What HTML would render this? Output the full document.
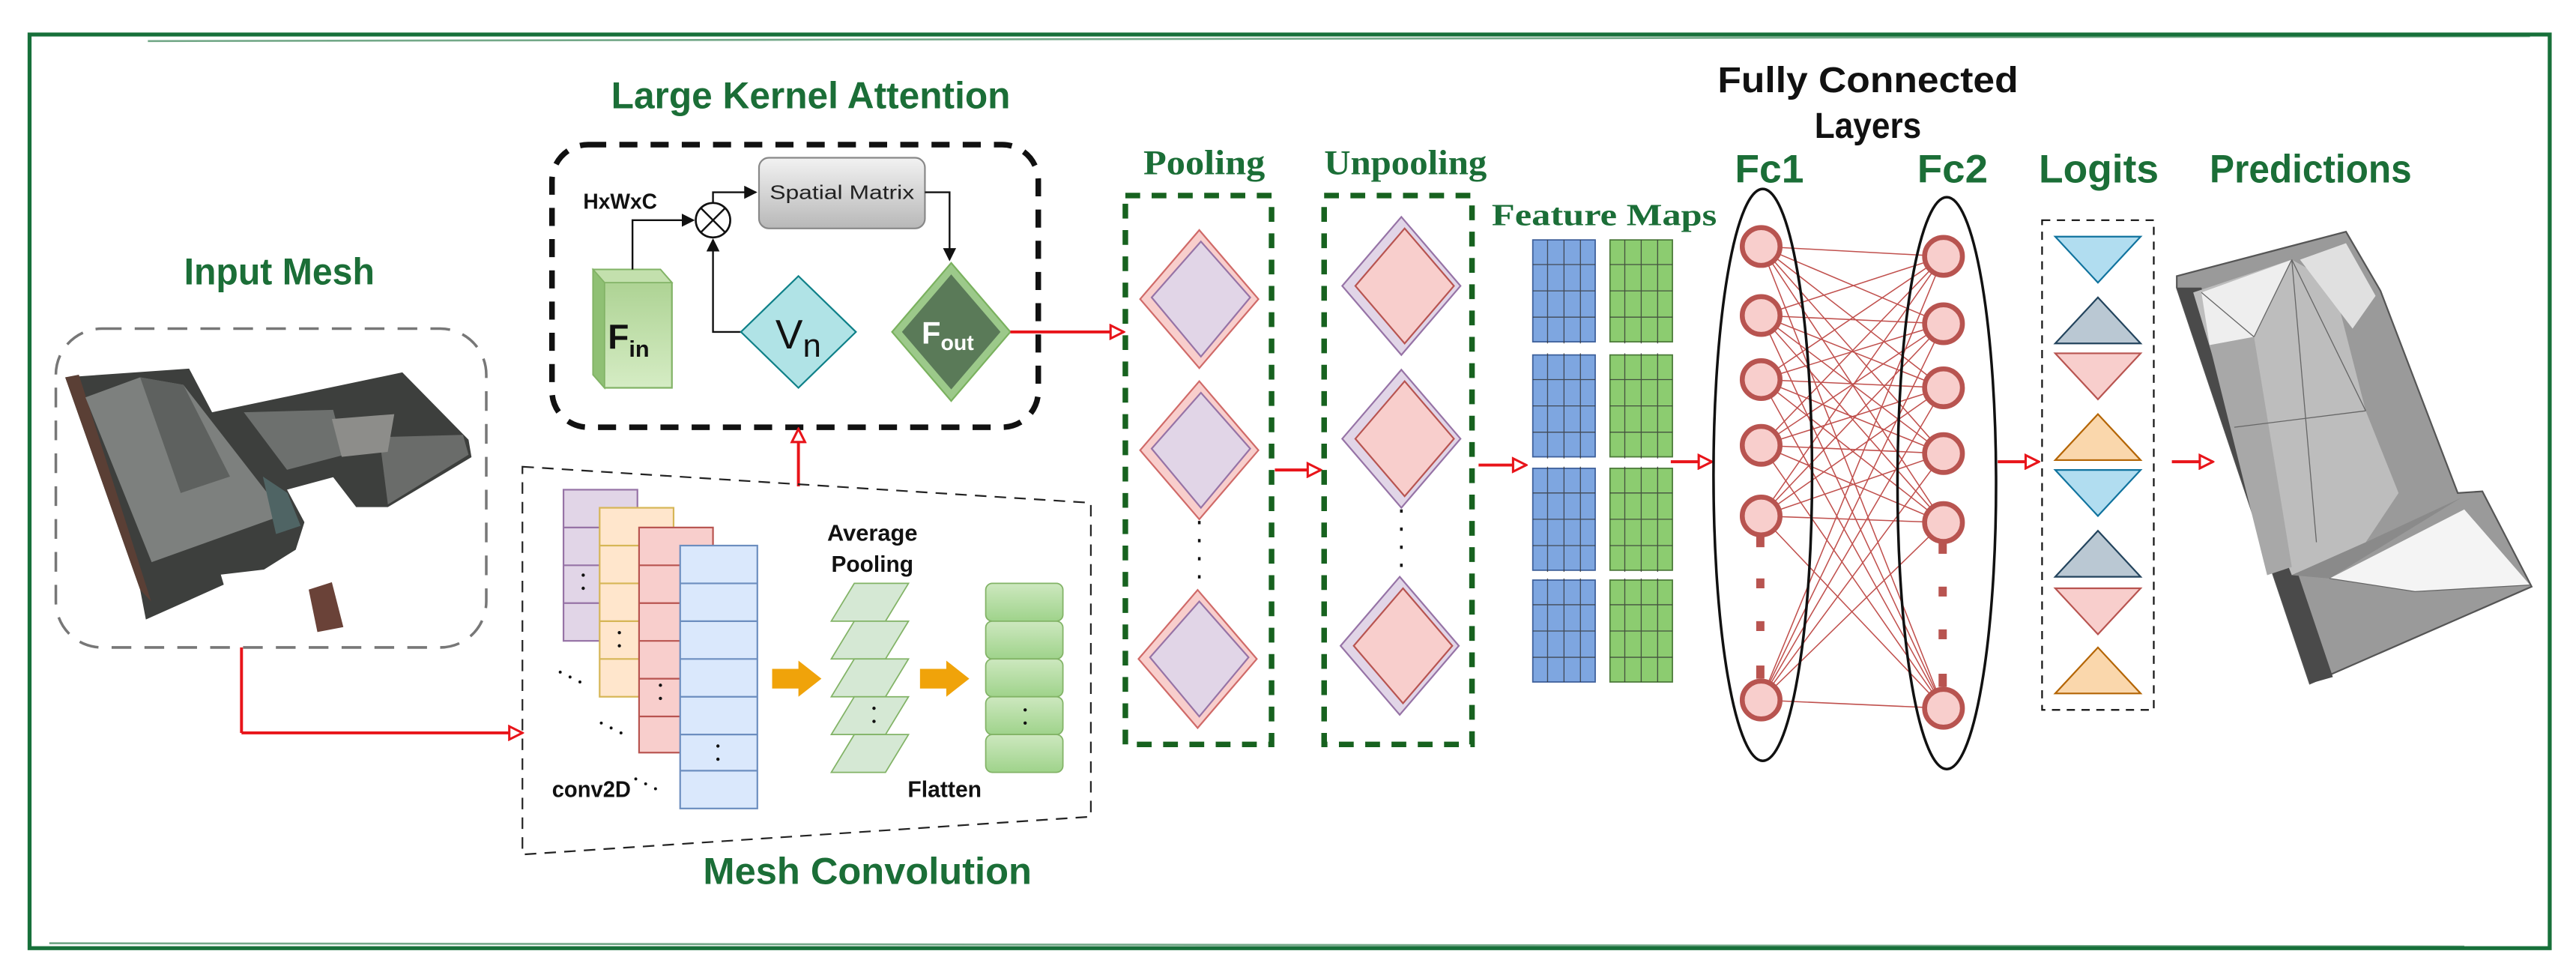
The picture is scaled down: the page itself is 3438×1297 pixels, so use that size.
<!DOCTYPE html>
<html><head><meta charset="utf-8"><style>
html,body{margin:0;padding:0;background:#fff;}
svg{display:block;}
.g{fill:#1b6e37;font-family:"Liberation Sans",sans-serif;font-weight:bold;}
.s{fill:#1b6e37;font-family:"Liberation Serif",serif;font-weight:bold;}
.k{fill:#111;font-family:"Liberation Sans",sans-serif;font-weight:bold;}
</style></head><body>
<svg width="3438" height="1297" viewBox="0 0 1568 591.5" preserveAspectRatio="none" xmlns="http://www.w3.org/2000/svg">
<defs>
<marker id="ra" markerWidth="10" markerHeight="10" refX="9" refY="5" orient="auto" markerUnits="userSpaceOnUse"><path d="M1,1 L9,5 L1,9 Z" fill="#fff" stroke="#e8141a" stroke-width="1.4"/></marker>
<marker id="ka" markerWidth="8" markerHeight="8" refX="7" refY="4" orient="auto" markerUnits="userSpaceOnUse"><path d="M0,0 L8,4 L0,8 Z" fill="#111"/></marker>
<linearGradient id="sm" x1="0" y1="0" x2="0" y2="1"><stop offset="0" stop-color="#f2f2f2"/><stop offset="1" stop-color="#b8b8b8"/></linearGradient>
<linearGradient id="fin" x1="0" y1="0" x2="0" y2="1"><stop offset="0" stop-color="#a9d08e"/><stop offset="1" stop-color="#d5ecc4"/></linearGradient>
<linearGradient id="gb" x1="0" y1="0" x2="0" y2="1"><stop offset="0" stop-color="#cde8bf"/><stop offset="1" stop-color="#9fd38b"/></linearGradient>
</defs>

<rect x="18" y="21" width="1534" height="556" fill="none" stroke="#17703a" stroke-width="2.4"/>
<line x1="90" y1="25" x2="1540" y2="22" stroke="#17703a" stroke-width="1.2" opacity="0.6"/>
<line x1="30" y1="574" x2="1500" y2="576" stroke="#17703a" stroke-width="1.2" opacity="0.6"/>

<!-- Input mesh -->
<text class="g" x="112" y="173" font-size="23" textLength="116" lengthAdjust="spacingAndGlyphs">Input Mesh</text>
<rect x="34" y="200" width="262" height="194" rx="28" fill="none" stroke="#777" stroke-width="1.6" stroke-dasharray="12,8"/>
<polygon points="39.7,229.6 115.1,224.3 129.1,250.9 244.9,226.6 285.2,267.6 287,278.2 236.1,308.6 216.8,308.6 202.8,290.4 174.7,298 185.3,317.8 180,334.5 160.7,346.6 134.4,349.7 136.2,355.8 88.8,377 85.3,358.8" fill="#3d3f3d"/>
<polygon points="39.7,229.6 48,228 92,366 85.3,358.8" fill="#5a3f35"/>
<polygon points="52,241.8 85.3,229.6 111.6,234.2 173,313.2 92.3,342.1" fill="#7d807e"/>
<polygon points="85.3,229.6 111.6,234.2 140,290 110,300" fill="#5e615f"/>
<polygon points="148.4,250.9 202.8,249.4 209.8,276.7 174.7,285.9" fill="#6d706e"/>
<polygon points="230.9,266 281.8,264.6 285.2,276.7 236.1,307" fill="#6a6c6a"/>
<polygon points="202,255 240,252 236,275 208,278" fill="#8d8d8a"/>
<polygon points="160,290 175,300 183,320 168,325" fill="#4f6464"/>
<polygon points="187.9,358.8 202,354.3 209,381.6 193.2,384.6" fill="#6a4238"/>

<line x1="147" y1="394" x2="147" y2="446" stroke="#e8141a" stroke-width="1.8"/>
<line x1="147" y1="446" x2="318" y2="446" stroke="#e8141a" stroke-width="1.8" marker-end="url(#ra)"/>

<!-- Large Kernel Attention -->
<text class="g" x="372" y="66" font-size="23" textLength="243" lengthAdjust="spacingAndGlyphs">Large Kernel Attention</text>
<rect x="336" y="88" width="296" height="172" rx="22" fill="none" stroke="#111" stroke-width="3.4" stroke-dasharray="11,8"/>
<rect x="462" y="96" width="101" height="43" rx="6" fill="url(#sm)" stroke="#888" stroke-width="1"/>
<text x="512.5" y="121" font-size="12" text-anchor="middle" font-family="Liberation Sans,sans-serif" fill="#222" textLength="88" lengthAdjust="spacingAndGlyphs">Spatial Matrix</text>
<text class="k" x="355" y="127" font-size="13" textLength="45" lengthAdjust="spacingAndGlyphs">HxWxC</text>
<circle cx="434" cy="134" r="10.5" fill="#fff" stroke="#111" stroke-width="1.2"/>
<line x1="426.5" y1="126.5" x2="441.5" y2="141.5" stroke="#111" stroke-width="1.1"/>
<line x1="441.5" y1="126.5" x2="426.5" y2="141.5" stroke="#111" stroke-width="1.1"/>
<polygon points="361,164 402,164 409,172 409,236 368,236 361,228" fill="url(#fin)" stroke="#82b366" stroke-width="1"/>
<polygon points="361,164 402,164 409,172 368,172" fill="#c3e0ad" stroke="#82b366" stroke-width="0.8"/>
<polygon points="361,164 368,172 368,236 361,228" fill="#8fc074" stroke="#82b366" stroke-width="0.8"/>
<text x="370" y="212" font-size="21" font-family="Liberation Sans,sans-serif" font-weight="bold" fill="#111">F<tspan font-size="14" dy="5">in</tspan></text>
<polyline points="385,164 385,134 422,134" fill="none" stroke="#111" stroke-width="1.1" marker-end="url(#ka)"/>
<polyline points="434,123 434,117 460,117" fill="none" stroke="#111" stroke-width="1.1" marker-end="url(#ka)"/>
<polyline points="563,117 578,117 578,158" fill="none" stroke="#111" stroke-width="1.1" marker-end="url(#ka)"/>
<polyline points="452,202 434,202 434,146" fill="none" stroke="#111" stroke-width="1.1" marker-end="url(#ka)"/>
<polygon points="486,168 521,202 486,236 451,202" fill="#b0e3e6" stroke="#0e8088" stroke-width="1"/>
<text x="472" y="212" font-size="25" font-family="Liberation Sans,sans-serif" fill="#111">V<tspan font-size="20" dy="5">n</tspan></text>
<polygon points="579,160 615,202 579,244 543,202" fill="#9cc98a" stroke="#7ab15e" stroke-width="1"/>
<polygon points="579,167 609,202 579,237 549,202" fill="#5a7a58"/>
<text x="561" y="209" font-size="19" font-family="Liberation Sans,sans-serif" font-weight="bold" fill="#fff">F<tspan font-size="13" dy="4">out</tspan></text>
<line x1="615" y1="202" x2="684" y2="202" stroke="#e8141a" stroke-width="1.8" marker-end="url(#ra)"/>
<line x1="486" y1="296" x2="486" y2="261" stroke="#e8141a" stroke-width="1.8" marker-end="url(#ra)"/>

<!-- Mesh convolution -->
<polygon points="318,284 664,306 664,497 318,520" fill="none" stroke="#222" stroke-width="1" stroke-dasharray="7,5"/>
<g stroke-width="1">
<rect x="343" y="298" width="45" height="92" fill="#e1d5e7" stroke="#9673a6"/>
<line x1="343" y1="321" x2="388" y2="321" stroke="#9673a6"/><line x1="343" y1="344" x2="388" y2="344" stroke="#9673a6"/><line x1="343" y1="367" x2="388" y2="367" stroke="#9673a6"/>
<rect x="365" y="309" width="45" height="115" fill="#ffe6cc" stroke="#d6b656"/>
<line x1="365" y1="332" x2="410" y2="332" stroke="#d6b656"/><line x1="365" y1="355" x2="410" y2="355" stroke="#d6b656"/><line x1="365" y1="378" x2="410" y2="378" stroke="#d6b656"/><line x1="365" y1="401" x2="410" y2="401" stroke="#d6b656"/>
<rect x="389" y="321" width="45" height="137" fill="#f8cecc" stroke="#b85450"/>
<line x1="389" y1="344" x2="434" y2="344" stroke="#b85450"/><line x1="389" y1="367" x2="434" y2="367" stroke="#b85450"/><line x1="389" y1="390" x2="434" y2="390" stroke="#b85450"/><line x1="389" y1="413" x2="434" y2="413" stroke="#b85450"/><line x1="389" y1="436" x2="434" y2="436" stroke="#b85450"/>
<rect x="414" y="332" width="47" height="160" fill="#dae8fc" stroke="#6c8ebf"/>
<line x1="414" y1="355" x2="461" y2="355" stroke="#6c8ebf"/><line x1="414" y1="378" x2="461" y2="378" stroke="#6c8ebf"/><line x1="414" y1="401" x2="461" y2="401" stroke="#6c8ebf"/><line x1="414" y1="424" x2="461" y2="424" stroke="#6c8ebf"/><line x1="414" y1="447" x2="461" y2="447" stroke="#6c8ebf"/><line x1="414" y1="469" x2="461" y2="469" stroke="#6c8ebf"/>
</g>
<g fill="#111">
<circle cx="355" cy="350" r="1"/><circle cx="355" cy="358" r="1"/>
<circle cx="377" cy="385" r="1"/><circle cx="377" cy="393" r="1"/>
<circle cx="402" cy="417" r="1"/><circle cx="402" cy="425" r="1"/>
<circle cx="437" cy="454" r="1"/><circle cx="437" cy="462" r="1"/>
<circle cx="341" cy="409" r="0.9"/><circle cx="347" cy="412" r="0.9"/><circle cx="353" cy="415" r="0.9"/>
<circle cx="366" cy="440" r="0.9"/><circle cx="372" cy="443" r="0.9"/><circle cx="378" cy="446" r="0.9"/>
<circle cx="387" cy="474" r="0.9"/><circle cx="393" cy="477" r="0.9"/><circle cx="399" cy="480" r="0.9"/>
</g>
<text x="336" y="485" font-size="14" font-family="Liberation Sans,sans-serif" font-weight="bold" fill="#111" textLength="48" lengthAdjust="spacingAndGlyphs">conv2D</text>
<text x="531" y="329" font-size="14" font-family="Liberation Sans,sans-serif" font-weight="bold" fill="#111" text-anchor="middle" textLength="55" lengthAdjust="spacingAndGlyphs">Average</text>
<text x="531" y="348" font-size="14" font-family="Liberation Sans,sans-serif" font-weight="bold" fill="#111" text-anchor="middle" textLength="50" lengthAdjust="spacingAndGlyphs">Pooling</text>
<text x="575" y="485" font-size="14" font-family="Liberation Sans,sans-serif" font-weight="bold" fill="#111" text-anchor="middle" textLength="45" lengthAdjust="spacingAndGlyphs">Flatten</text>
<polygon points="470,407 486,407 486,402 500,413 486,424 486,419 470,419" fill="#f0a30a"/>
<polygon points="560,407 576,407 576,402 590,413 576,424 576,419 560,419" fill="#f0a30a"/>
<g fill="#d5e8d4" stroke="#82b366" stroke-width="0.8">
<polygon points="520,355 553,355 539,378 506,378"/>
<polygon points="520,378 553,378 539,401 506,401"/>
<polygon points="520,401 553,401 539,424 506,424"/>
<polygon points="520,424 553,424 539,447 506,447"/>
<polygon points="520,447 553,447 539,470 506,470"/>
</g>
<circle cx="532" cy="431" r="1" fill="#111"/><circle cx="532" cy="439" r="1" fill="#111"/>
<g fill="url(#gb)" stroke="#82b366" stroke-width="0.8">
<rect x="600" y="355" width="47" height="23" rx="4"/>
<rect x="600" y="378" width="47" height="23" rx="4"/>
<rect x="600" y="401" width="47" height="23" rx="4"/>
<rect x="600" y="424" width="47" height="23" rx="4"/>
<rect x="600" y="447" width="47" height="23" rx="4"/>
</g>
<circle cx="624" cy="432" r="1" fill="#111"/><circle cx="624" cy="440" r="1" fill="#111"/>
<text class="g" x="428" y="538" font-size="23" textLength="200" lengthAdjust="spacingAndGlyphs">Mesh Convolution</text>

<!-- Pooling -->
<text class="s" x="696" y="106" font-size="21" textLength="74" lengthAdjust="spacingAndGlyphs">Pooling</text>
<rect x="685" y="119" width="89" height="334" fill="none" stroke="#17621f" stroke-width="3.4" stroke-dasharray="9,7"/>
<polygon points="730,140 766,182 730,224 694,182" fill="#f8cecc" stroke="#d06a68" stroke-width="1"/>
<polygon points="731,147 761,181 731,217 701,181" fill="#e1d5e7" stroke="#9673a6" stroke-width="1"/>
<polygon points="730,232 766,274 730,316 694,274" fill="#f8cecc" stroke="#d06a68" stroke-width="1"/>
<polygon points="731,239 761,273 731,309 701,273" fill="#e1d5e7" stroke="#9673a6" stroke-width="1"/>
<polygon points="729,359 765,401 729,443 693,401" fill="#f8cecc" stroke="#d06a68" stroke-width="1"/>
<polygon points="730,366 760,400 730,436 700,400" fill="#e1d5e7" stroke="#9673a6" stroke-width="1"/>
<line x1="730" y1="317" x2="730" y2="358" stroke="#111" stroke-width="1.6" stroke-dasharray="2,9"/>
<line x1="776" y1="286" x2="804" y2="286" stroke="#e8141a" stroke-width="1.8" marker-end="url(#ra)"/>

<!-- Unpooling -->
<text class="s" x="806" y="106" font-size="21" textLength="99" lengthAdjust="spacingAndGlyphs">Unpooling</text>
<rect x="806" y="119" width="90" height="334" fill="none" stroke="#17621f" stroke-width="3.4" stroke-dasharray="9,7"/>
<polygon points="853,132 889,174 853,216 817,174" fill="#e1d5e7" stroke="#9673a6" stroke-width="1"/>
<polygon points="855,139 885,174 855,209 825,174" fill="#f8cecc" stroke="#b85450" stroke-width="1"/>
<polygon points="853,225 889,267 853,309 817,267" fill="#e1d5e7" stroke="#9673a6" stroke-width="1"/>
<polygon points="855,232 885,267 855,302 825,267" fill="#f8cecc" stroke="#b85450" stroke-width="1"/>
<polygon points="852,351 888,393 852,435 816,393" fill="#e1d5e7" stroke="#9673a6" stroke-width="1"/>
<polygon points="854,358 884,393 854,428 824,393" fill="#f8cecc" stroke="#b85450" stroke-width="1"/>
<line x1="853" y1="310" x2="853" y2="350" stroke="#111" stroke-width="1.6" stroke-dasharray="2,9"/>
<line x1="900" y1="283" x2="929" y2="283" stroke="#e8141a" stroke-width="1.8" marker-end="url(#ra)"/>

<!-- Feature maps -->
<text class="s" x="908" y="137" font-size="19" textLength="137" lengthAdjust="spacingAndGlyphs">Feature Maps</text>
<g fill="#7ea6e0" stroke="#3d5f9a" stroke-width="0.8">
<rect x="933" y="146" width="38" height="62"/><rect x="933" y="216" width="38" height="62"/><rect x="933" y="285" width="38" height="62"/><rect x="933" y="353" width="38" height="62"/>
</g>
<g fill="#8ccc70" stroke="#4c7a3a" stroke-width="0.8">
<rect x="980" y="146" width="38" height="62"/><rect x="980" y="216" width="38" height="62"/><rect x="980" y="285" width="38" height="62"/><rect x="980" y="353" width="38" height="62"/>
</g>
<g stroke="#333" stroke-width="0.6" opacity="0.8">
<path d="M942,146v269M952,146v269M962,146v269M989,146v269M999,146v269M1009,146v269"/>
<path d="M933,161h38m-38,16h38m-38,16h38M933,231h38m-38,16h38m-38,16h38M933,300h38m-38,16h38m-38,16h38M933,368h38m-38,16h38m-38,16h38"/>
<path d="M980,161h38m-38,16h38m-38,16h38M980,231h38m-38,16h38m-38,16h38M980,300h38m-38,16h38m-38,16h38M980,368h38m-38,16h38m-38,16h38"/>
</g>
<g fill="#fff"><rect x="930" y="209" width="92" height="6"/><rect x="930" y="279" width="92" height="5"/><rect x="930" y="348" width="92" height="4"/></g>
<line x1="1017" y1="281" x2="1042" y2="281" stroke="#e8141a" stroke-width="1.8" marker-end="url(#ra)"/>

<!-- Fully connected -->
<text class="k" x="1137" y="56" font-size="22" text-anchor="middle" textLength="183" lengthAdjust="spacingAndGlyphs">Fully Connected</text>
<text class="k" x="1137" y="84" font-size="22" text-anchor="middle" textLength="65" lengthAdjust="spacingAndGlyphs">Layers</text>
<text class="g" x="1056" y="111" font-size="24" textLength="42" lengthAdjust="spacingAndGlyphs">Fc1</text>
<text class="g" x="1167" y="111" font-size="24" textLength="43" lengthAdjust="spacingAndGlyphs">Fc2</text>
<g stroke="#c0504d" stroke-width="0.7">
<path d="M1072,150L1183,156M1072,150L1183,197M1072,150L1183,236M1072,150L1183,276M1072,150L1183,318M1072,150L1183,431
M1072,192L1183,156M1072,192L1183,197M1072,192L1183,236M1072,192L1183,276M1072,192L1183,318M1072,192L1183,431
M1072,231L1183,156M1072,231L1183,197M1072,231L1183,236M1072,231L1183,276M1072,231L1183,318M1072,231L1183,431
M1072,271L1183,156M1072,271L1183,197M1072,271L1183,236M1072,271L1183,276M1072,271L1183,318M1072,271L1183,431
M1072,314L1183,156M1072,314L1183,197M1072,314L1183,236M1072,314L1183,276M1072,314L1183,318M1072,314L1183,431
M1072,426L1183,156M1072,426L1183,197M1072,426L1183,236M1072,426L1183,276M1072,426L1183,318M1072,426L1183,431"/>
</g>
<ellipse cx="1073" cy="289" rx="30" ry="174" fill="none" stroke="#111" stroke-width="1.6"/>
<ellipse cx="1185" cy="294" rx="30" ry="174" fill="none" stroke="#111" stroke-width="1.6"/>
<g fill="#f8cecc" stroke="#b85450" stroke-width="3">
<circle cx="1072" cy="150" r="11.5"/><circle cx="1072" cy="192" r="11.5"/><circle cx="1072" cy="231" r="11.5"/><circle cx="1072" cy="271" r="11.5"/><circle cx="1072" cy="314" r="11.5"/><circle cx="1072" cy="426" r="11.5"/>
<circle cx="1183" cy="156" r="11.5"/><circle cx="1183" cy="197" r="11.5"/><circle cx="1183" cy="236" r="11.5"/><circle cx="1183" cy="276" r="11.5"/><circle cx="1183" cy="318" r="11.5"/><circle cx="1183" cy="431" r="11.5"/>
</g>
<g fill="#b85450">
<rect x="1069" y="326" width="5" height="7"/><rect x="1069" y="352" width="5" height="6"/><rect x="1069" y="378" width="5" height="6"/><rect x="1069" y="405" width="5" height="8"/>
<rect x="1180" y="330" width="5" height="7"/><rect x="1180" y="357" width="5" height="6"/><rect x="1180" y="383" width="5" height="6"/><rect x="1180" y="410" width="5" height="8"/>
</g>
<line x1="1216" y1="281" x2="1241" y2="281" stroke="#e8141a" stroke-width="1.8" marker-end="url(#ra)"/>

<!-- Logits -->
<text class="g" x="1241" y="111" font-size="24" textLength="73" lengthAdjust="spacingAndGlyphs">Logits</text>
<rect x="1243" y="134" width="68" height="298" fill="none" stroke="#111" stroke-width="1" stroke-dasharray="5,4"/>
<polygon points="1251,144 1303,144 1277,172" fill="#b1ddf0" stroke="#10739e" stroke-width="1"/>
<polygon points="1277,181 1303,209 1251,209" fill="#bac8d3" stroke="#23445d" stroke-width="1"/>
<polygon points="1251,215 1303,215 1277,243" fill="#f8cecc" stroke="#b85450" stroke-width="1"/>
<polygon points="1277,252 1303,280 1251,280" fill="#fad7ac" stroke="#b46504" stroke-width="1"/>
<polygon points="1251,286 1303,286 1277,314" fill="#b1ddf0" stroke="#10739e" stroke-width="1"/>
<polygon points="1277,323 1303,351 1251,351" fill="#bac8d3" stroke="#23445d" stroke-width="1"/>
<polygon points="1251,358 1303,358 1277,386" fill="#f8cecc" stroke="#b85450" stroke-width="1"/>
<polygon points="1277,394 1303,422 1251,422" fill="#fad7ac" stroke="#b46504" stroke-width="1"/>
<line x1="1322" y1="281" x2="1347" y2="281" stroke="#e8141a" stroke-width="1.8" marker-end="url(#ra)"/>

<!-- Predictions -->
<text class="g" x="1345" y="111" font-size="24" textLength="123" lengthAdjust="spacingAndGlyphs">Predictions</text>
<polygon points="1325,168 1428,141 1449,177 1496,300 1511,299 1541,357 1406,416 1325,175" fill="#9a9a9a" stroke="#555" stroke-width="1"/>
<polygon points="1325,175 1340,175 1420,412 1406,416" fill="#4a4a4a"/>
<polygon points="1335,178 1395,158 1420,172 1440,250 1460,300 1440,330 1395,350 1360,260" fill="#bdbdbd"/>
<polygon points="1340,178 1395,158 1372,205 1345,210" fill="#eeeeee"/>
<polygon points="1400,158 1428,148 1446,180 1432,200" fill="#e0e0e0"/>
<polygon points="1418,352 1500,310 1540,356 1470,360" fill="#f4f4f4"/>
<polygon points="1395,350 1440,330 1498,303 1418,352" fill="#8a8a8a"/>
<polygon points="1345,210 1372,205 1395,345 1380,350" fill="#a8a8a8"/>
<g stroke="#666" stroke-width="0.6" fill="none">
<path d="M1395,158L1372,205M1395,158L1440,250M1395,158L1410,330M1340,178L1372,205M1360,260L1440,250M1418,352L1470,360L1540,356"/>
</g>
</svg>
</body></html>
